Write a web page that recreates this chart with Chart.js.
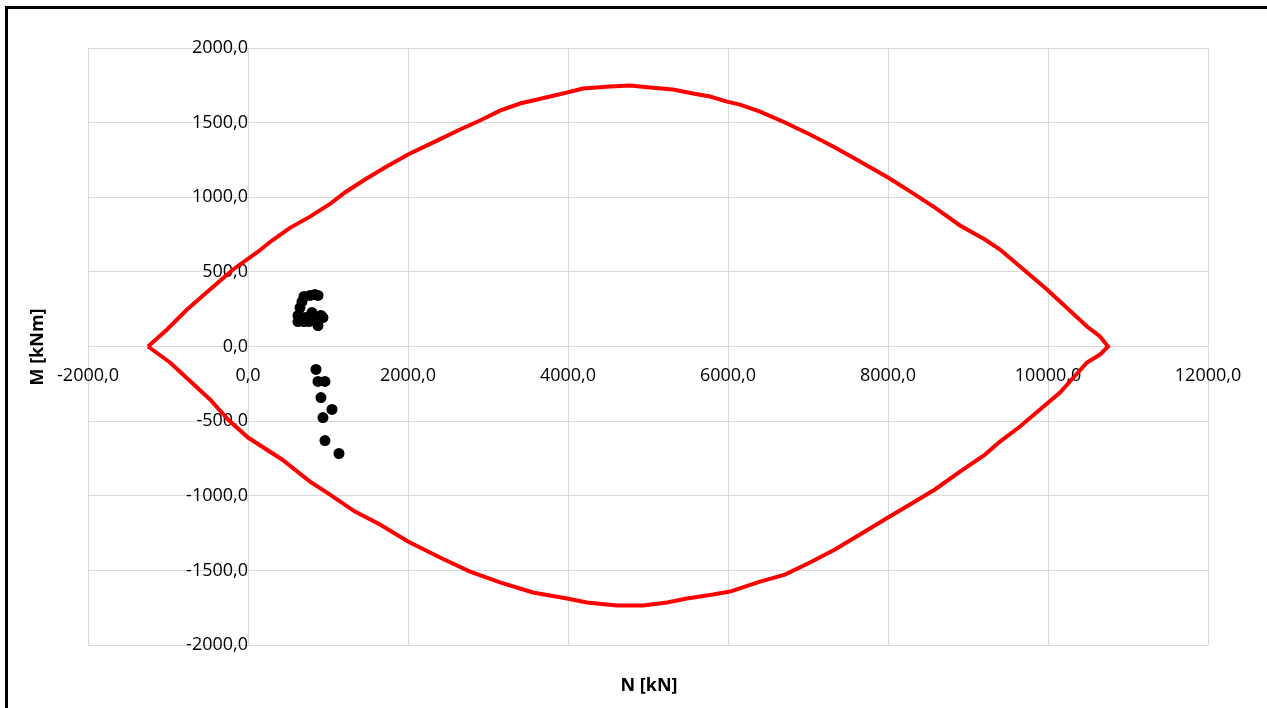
<!DOCTYPE html>
<html>
<head>
<meta charset="utf-8">
<script src="https://cdn.jsdelivr.net/npm/chart.js@4.4.1/dist/chart.umd.min.js"></script>
<style>
  html, body { margin: 0; padding: 0; background: #fff; overflow: hidden; }
  #wrap { position: relative; width: 1267px; height: 708px; overflow: hidden; }
  #frame { position: absolute; left: 5px; top: 6px; width: 1400px; height: 900px; border: 3px solid #000; pointer-events: none; }
  canvas { position: absolute; left: 0; top: 0; }
</style>
</head>
<body>
<div id="wrap">
  <canvas id="c" width="1267" height="708"></canvas>
  <div id="frame"></div>
</div>
<script>
// Interaction curve (N [kN], M [kNm]) — upper branch left→right, then lower branch right→left
const curveN = [
  -1250, -1012, -762, -475, -187, 112, 300, 525, 775, 1025, 1212, 1462, 1712, 2000, 2337, 2650, 2900,
  3150, 3400, 3775, 3987, 4187, 4525, 4775, 5025, 5312, 5562, 5775, 5987, 6150, 6400, 6712, 7025,
  7337, 7650, 8000, 8275, 8587, 8900, 9212, 9400, 9650, 9987, 10150, 10487, 10650, 10750,
  10650, 10487, 10150, 9900, 9650, 9400, 9212, 8900, 8587, 8275, 8000, 7650, 7337, 7025, 6712, 6400,
  6025, 5812, 5487, 5237, 4937, 4612, 4237, 3987, 3562, 3150, 2775, 2400, 2000, 1650, 1337, 1025,
  775, 425, 0, -250, -475, -975, -1250
];
const curveM = [
  0, 114, 248, 382, 516, 630, 710, 795, 870, 955, 1032, 1119, 1199, 1286, 1373, 1454, 1514,
  1580, 1628, 1675, 1702, 1729, 1742, 1749, 1735, 1722, 1695, 1675, 1641, 1621, 1574, 1501, 1420,
  1333, 1240, 1132, 1039, 931, 811, 717, 650, 536, 382, 302, 134, 67, 0,
  -54, -107, -308, -422, -536, -637, -724, -838, -958, -1059, -1146, -1260, -1360, -1447, -1528, -1575,
  -1642, -1662, -1688, -1715, -1735, -1735, -1715, -1688, -1648, -1581, -1508, -1414, -1307, -1193, -1106, -992,
  -905, -757, -610, -489, -355, -107, 0
];
// Load points (N, M)
const loadN = [625, 625, 650, 675, 700, 775, 837, 875, 800, 850, 875, 912, 937, 725, 700, 762, 800, 675,
               850, 875, 962, 912, 1050, 937, 962, 1137];
const loadM = [167, 208, 261, 301, 335, 342, 348, 342, 181, 194, 140, 208, 194, 194, 167, 167, 228, 194,
               -154, -234, -234, -342, -422, -476, -630, -717];
// Axis ticks
const xTicks = { min: -2000, max: 12000, step: 2000 };
const yTicks = { min: -2000, max: 2000, step: 500 };
const xTitle = 'N [kN]';
const yTitle = 'M [kNm]';

const fmt = v => Number(v).toFixed(1).replace('.', ',');

const titlePlugin = {
  id: 'titles',
  afterDraw(chart) {
    const ctx = chart.ctx;
    ctx.save();
    ctx.fillStyle = '#000';
    ctx.font = 'bold 18px "Open Sans"';
    ctx.textAlign = 'center';
    ctx.textBaseline = 'middle';
    ctx.fillText(xTitle, 649, 686);
    ctx.translate(38, 347);
    ctx.rotate(-Math.PI / 2);
    ctx.fillText(yTitle, 0, 0);
    ctx.restore();
  }
};

new Chart(document.getElementById('c'), {
  type: 'scatter',
  data: {
    datasets: [
      {
        label: 'curve',
        data: curveN.map((n, i) => ({ x: n, y: curveM[i] })),
        showLine: true,
        borderColor: '#ff0000',
        borderWidth: 4,
        pointRadius: 0,
        pointHoverRadius: 0,
        tension: 0,
        fill: false,
        order: 2
      },
      {
        label: 'loads',
        data: loadN.map((n, i) => ({ x: n, y: loadM[i] })),
        showLine: false,
        backgroundColor: '#000',
        borderColor: '#000',
        pointRadius: 5.5,
        pointBorderWidth: 0,
        order: 1
      }
    ]
  },
  options: {
    responsive: false,
    animation: false,
    layout: { padding: { left: 88, right: 59, top: 48, bottom: 63 } },
    plugins: { legend: { display: false }, tooltip: { enabled: false } },
    scales: {
      x: {
        type: 'linear',
        position: { y: 0 },
        min: xTicks.min, max: xTicks.max,
        ticks: { stepSize: xTicks.step, callback: fmt, color: '#000', font: { family: 'Open Sans', size: 18 }, padding: 19, maxRotation: 0 },
        grid: { color: '#d9d9d9', lineWidth: 1, drawTicks: false },
        border: { display: false }
      },
      y: {
        type: 'linear',
        position: { x: 0 },
        min: yTicks.min, max: yTicks.max,
        ticks: { stepSize: yTicks.step, callback: fmt, color: '#000', font: { family: 'Open Sans', size: 18 }, padding: 20 },
        grid: { color: '#d9d9d9', lineWidth: 1, drawTicks: false },
        border: { display: false }
      }
    }
  },
  plugins: [titlePlugin]
});
</script>
</body>
</html>
